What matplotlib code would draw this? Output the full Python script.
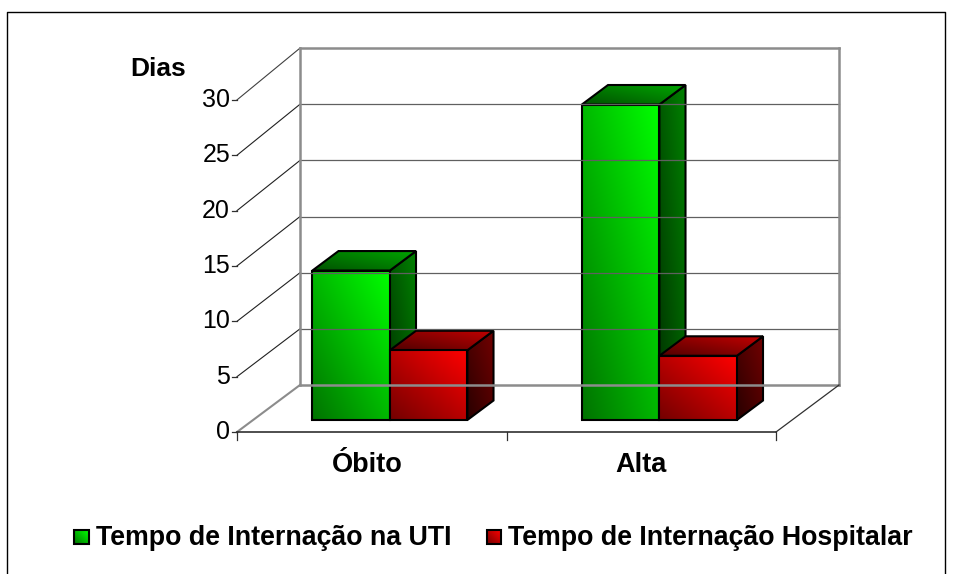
import matplotlib
matplotlib.use('Agg')
import matplotlib.pyplot as plt
import numpy as np
from matplotlib.patches import Polygon

plt.rcParams['font.family'] = ['Liberation Sans', 'DejaVu Sans']

# dados
categorias = ['Óbito', 'Alta']
series = ['Tempo de Internação na UTI', 'Tempo de Internação Hospitalar']
uti = [13.5, 28.5]
hospitalar = [6.3, 5.8]
y_ticks = [0, 5, 10, 15, 20, 25, 30]

W, H = 955, 574
# escala em pixels da parede frontal
X0, XU = 237.0, 269.5
Y0, YU = 432.0, 11.07
# profundidade do grafico em pixels
DX, DY = 63.0, 47.0
# a parede do fundo e um pouco mais alta que a frente
K_FUNDO = 11.23 / 11.07

fig = plt.figure(figsize=(W / 100, H / 100), dpi=100)
ax = fig.add_axes([0, 0, 1, 1])
ax.set_xlim(-X0 / XU, (W - X0) / XU)
ax.set_ylim((Y0 - H) / YU, Y0 / YU)
ax.set_autoscale_on(False)
ax.axis('off')


def proj(x, y, d=0.0):
    # d: 0 frente, 1 fundo
    return x + d * DX / XU, y + d * DY / YU


def fundo(x, y):
    return x + DX / XU, y * K_FUNDO + DY / YU


def px(x, y):
    return (x - X0) / XU, (Y0 - y) / YU


def linha(p, q, cor, lw):
    ax.plot([p[0], q[0]], [p[1], q[1]], color=cor, lw=lw, solid_capstyle='projecting')


def face(pts, c0, c1):
    # preenche poligono com gradiente de baixo-esquerda (c0) a cima-direita (c1)
    pts = np.array(pts)
    xa, xb = pts[:, 0].min(), pts[:, 0].max()
    ya, yb = pts[:, 1].min(), pts[:, 1].max()
    n = 64
    gx, gy = np.meshgrid(np.linspace(0, 1, n), np.linspace(1, 0, n))
    t = (gx + gy) / 2
    c0, c1 = np.array(c0) / 255, np.array(c1) / 255
    img = c0 + (c1 - c0) * t[..., None]
    poly = Polygon(pts, closed=True, facecolor='none', edgecolor='black', lw=1.5, joinstyle='miter')
    ax.add_patch(poly)
    im = ax.imshow(img, extent=(xa, xb, ya, yb), aspect='auto', interpolation='bilinear',
                   zorder=poly.get_zorder() - 0.01 + len(ax.patches) * 0.01)
    poly.set_zorder(im.get_zorder() + 0.001)
    im.set_clip_path(poly)


CORES = {
    'verde': {'front': ((0, 115, 0), (0, 255, 0)), 'top': ((0, 80, 0), (0, 165, 0)),
              'side': ((0, 50, 0), (0, 130, 0))},
    'verm': {'front': ((115, 0, 0), (255, 0, 0)), 'top': ((80, 0, 0), (195, 0, 0)),
             'side': ((40, 0, 0), (115, 0, 0))},
}

GRID = '#8c8c8c'

# paredes e grade
for v in y_ticks:
    a = proj(0, v, 0)
    b = fundo(0, v)
    c = fundo(2, v)
    if v == 0:
        linha(a, b, GRID, 1.5)
        linha(b, c, GRID, 1.8)
    elif v == 30:
        linha(a, b, '#404040', 0.8)
        linha(b, c, GRID, 1.8)
    else:
        linha(a, b, '#202020', 0.8)
        linha(b, c, '#606060', 0.9)
linha(fundo(0, 0), fundo(0, 30), GRID, 1.8)
linha(fundo(2, 0), fundo(2, 30), GRID, 1.8)
linha(proj(2, 0, 0), fundo(2, 0), '#303030', 0.9)
linha(proj(0, 0, 0), proj(2, 0, 0), '#303030', 1.2)

# ticks
tick = 5 / XU
for v in y_ticks:
    ax.plot([-tick, 0], [v, v], color='#303030', lw=0.9)
    ax.text(-7 / XU, v, str(v), ha='right', va='center', fontsize=18, color='black')
for i in range(3):
    ax.plot([i, i], [0, -8 / YU], color='#303030', lw=0.9)

# barras
d0, d1 = 12 / DY, 31.5 / DY
larg = 77.5 / XU
inicio = 0.22
centros = [367.5, 641]
for i, cat in enumerate(categorias):
    x = i + inicio
    for j, (val, nome) in enumerate(zip((uti[i], hospitalar[i]), ('verde', 'verm'))):
        xa, xb = x + j * larg, x + (j + 1) * larg
        face([proj(xb, 0, d0), proj(xb, 0, d1), proj(xb, val, d1), proj(xb, val, d0)], *CORES[nome]['side'])
        face([proj(xa, val, d0), proj(xb, val, d0), proj(xb, val, d1), proj(xa, val, d1)], *CORES[nome]['top'])
        face([proj(xa, 0, d0), proj(xb, 0, d0), proj(xb, val, d0), proj(xa, val, d0)], *CORES[nome]['front'])
    ax.text(*px(centros[i], 465), cat, ha='center', va='center', fontsize=19.5, fontweight='bold')

ax.text(*px(158.5, 69), 'Dias', ha='center', va='center', fontsize=19, fontweight='bold')

# legenda
leg_x = [(74, 88.5, 96), (487, 500.5, 508)]
for (xa, xb, xt), nome, s in zip(leg_x, ('verde', 'verm'), series):
    a, b = px(xa, 544), px(xb, 530)
    face([a, (b[0], a[1]), b, (a[0], b[1])], *CORES[nome]['front'])
    ax.text(*px(xt, 538), s, ha='left', va='center', fontsize=19.3, fontweight='bold')

# moldura
p = px(7, 12)
q = px(945, 12)
b1 = px(7, 574)
b2 = px(945, 574)
ax.plot([b1[0], p[0], q[0], b2[0]], [b1[1], p[1], q[1], b2[1]], color='black', lw=1.0)

fig.savefig('out.png', dpi=100)
